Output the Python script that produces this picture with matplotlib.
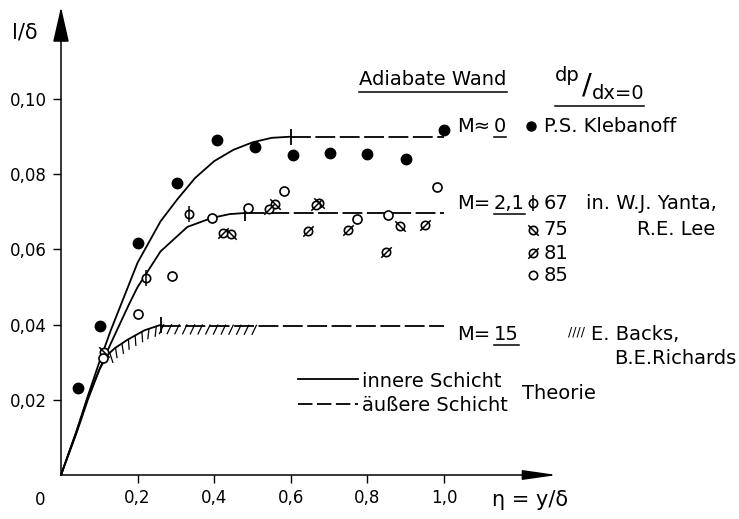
import matplotlib
matplotlib.use("Agg")
import matplotlib.pyplot as plt
from matplotlib.path import Path
from matplotlib.lines import Line2D
from matplotlib import patheffects as pe

# theory curves (inner layer, solid)
m0_x = [0, 0.04, 0.07, 0.10, 0.13, 0.165, 0.20, 0.26, 0.305, 0.35, 0.40, 0.45, 0.50, 0.55, 0.60]
m0_y = [0, 0.0115, 0.021, 0.030, 0.0385, 0.0475, 0.0565, 0.0675, 0.0735, 0.0790, 0.0835, 0.0865, 0.0885, 0.0897, 0.0900]
m21_x = [0, 0.04, 0.07, 0.10, 0.13, 0.178, 0.20, 0.26, 0.33, 0.394, 0.44, 0.48]
m21_y = [0, 0.011, 0.020, 0.028, 0.035, 0.0455, 0.0500, 0.0595, 0.0660, 0.0684, 0.0694, 0.0697]
m15_x = [0, 0.04, 0.07, 0.10, 0.12, 0.14, 0.174, 0.218, 0.262]
m15_y = [0, 0.0115, 0.0205, 0.028, 0.0318, 0.0337, 0.0360, 0.0385, 0.0400]
# outer layer (dashed) levels, running out to eta = 1.0
outer_end = 1.0
m0_outer = 0.0900
m21_outer = 0.0697
m15_outer = 0.0397
# Backs / Richards hatched range
hatch_x = [0.12, 0.14, 0.174, 0.218, 0.262, 0.52]
hatch_y = [0.0318, 0.0337, 0.0360, 0.0385, 0.0400, 0.0398]

# measurements
kleb_x = [0.044, 0.103, 0.20, 0.303, 0.406, 0.507, 0.605, 0.703, 0.798, 0.90, 1.0]
kleb_y = [0.0231, 0.0397, 0.0616, 0.0777, 0.0891, 0.0873, 0.0851, 0.0857, 0.0854, 0.0840, 0.0919]
y67_x = [0.222, 0.335]
y67_y = [0.0525, 0.0693]
y75_x = [0.113, 0.444, 0.56, 0.674, 0.885]
y75_y = [0.0328, 0.0640, 0.0722, 0.0723, 0.0662]
y81_x = [0.424, 0.543, 0.644, 0.666, 0.749, 0.849, 0.950]
y81_y = [0.0645, 0.0708, 0.0649, 0.0718, 0.0652, 0.0594, 0.0665]
y85_x = [0.109, 0.202, 0.289, 0.394, 0.489, 0.583, 0.773, 0.855, 0.982]
y85_y = [0.0310, 0.0428, 0.0530, 0.0684, 0.0711, 0.0755, 0.0682, 0.0691, 0.0767]

xticks = [0.2, 0.4, 0.6, 0.8, 1.0]
xtick_labels = ["0,2", "0,4", "0,6", "0,8", "1,0"]
yticks = [0.02, 0.04, 0.06, 0.08, 0.10]
ytick_labels = ["0,02", "0,04", "0,06", "0,08", "0,10"]

plt.rcParams["font.family"] = ["DejaVu Sans"]
FS = 14

fig = plt.figure(figsize=(7.39, 5.19), dpi=100)
ax = fig.add_axes([61 / 739, 44 / 519, 496 / 739, 468 / 519])
ax.set_xlim(0, 1.295)
ax.set_ylim(0, 0.1245)
for s in ax.spines.values():
    s.set_visible(False)

# axes with arrow heads
ax.annotate("", xy=(0, 1), xytext=(0, 0), xycoords="axes fraction",
            arrowprops=dict(arrowstyle="-|>,head_length=2.2,head_width=0.5",
                            mutation_scale=10, lw=1.1, color="k",
                            shrinkA=0, shrinkB=0))
ax.annotate("", xy=(1, 0), xytext=(0, 0), xycoords="axes fraction",
            arrowprops=dict(arrowstyle="-|>,head_length=2.1,head_width=0.3",
                            mutation_scale=10, lw=1.1, color="k",
                            shrinkA=0, shrinkB=0))

ax.set_xticks(xticks, xtick_labels)
ax.set_yticks(yticks, ytick_labels)
ax.tick_params(direction="out", length=6, width=1, labelsize=12, pad=4)

lw = 1.3
dash = (0, (11, 2.5))
# solid inner-layer curves
for cx, cy in [(m0_x, m0_y), (m21_x, m21_y), (m15_x, m15_y)]:
    ax.plot(cx, cy, color="k", lw=lw, clip_on=False)
    ax.plot(cx[-1], cy[-1], marker="|", ms=11, mew=1.3, color="k")
# dashed outer-layer lines
for cx, lev in [(m0_x, m0_outer), (m21_x, m21_outer), (m15_x, m15_outer)]:
    ax.plot([cx[-1], outer_end], [lev, lev], color="k", lw=lw, ls=dash)

# hatching for Backs / Richards
ax.plot(hatch_x, hatch_y, color="k", lw=0.9,
        path_effects=[pe.TickedStroke(angle=-115, spacing=5.5, length=1.3)])

slash = Path([(-1, -1), (1, 1)], [Path.MOVETO, Path.LINETO])
backslash = Path([(-1, 1), (1, -1)], [Path.MOVETO, Path.LINETO])
vbar = Path([(0, -1), (0, 1)], [Path.MOVETO, Path.LINETO])


def open_circles(x, y, extra=None, extra_ms=7.5, ms=6):
    ax.plot(x, y, ls="none", marker="o", ms=ms, mfc="white", mec="k",
            mew=1.2, clip_on=False, zorder=3)
    if extra is not None:
        ax.plot(x, y, ls="none", marker=extra, ms=extra_ms, color="k",
                mew=1.1, clip_on=False, zorder=4)


ax.plot(kleb_x, kleb_y, ls="none", marker="o", ms=7.5, color="k",
        clip_on=False, zorder=3)
open_circles(y67_x, y67_y, vbar, 11)
open_circles(y75_x, y75_y, backslash, 7.5)
open_circles(y81_x, y81_y, slash, 7.5)
open_circles(y85_x, y85_y, ms=6.5)

# legend-like annotations
kw = dict(fontsize=FS, va="center", ha="left", clip_on=False)
ax.text(-0.094, 0.1176, "l/δ", fontsize=15, ha="center", va="center")
ax.text(-0.055, -0.0066, "0", fontsize=12, ha="center", va="center")
ax.text(1.225, -0.0066, "η = y/δ", fontsize=15, ha="center", va="center")

t_ad = ax.text(0.971, 0.1051, "Adiabate Wand", fontsize=FS, ha="center", va="center")
t_dp = ax.text(1.290, 0.1062, "dp", **kw)
ax.text(1.372, 0.1037, "/", fontsize=21, ha="center", va="center")
t_dx = ax.text(1.386, 0.1016, "dx=0", **kw)

ax.text(1.035, 0.0928, "M≈", **kw)
t_m0 = ax.text(1.130, 0.0928, "0", **kw)
ax.plot(1.227, 0.0928, marker="o", ms=6.5, color="k", clip_on=False)
ax.text(1.262, 0.0928, "P.S. Klebanoff", **kw)

ax.text(1.035, 0.0723, "M=", **kw)
t_m21 = ax.text(1.130, 0.0723, "2,1", **kw)
rows = [(0.0723, "67", vbar, 11), (0.0652, "75", backslash, 7.5),
        (0.0590, "81", slash, 7.5), (0.0532, "85", None, 0)]
for ry, lab, mk, ems in rows:
    ax.plot(1.232, ry, marker="o", ms=6, mfc="white", mec="k", mew=1.2,
            clip_on=False)
    if mk is not None:
        ax.plot(1.232, ry, marker=mk, ms=ems, color="k", mew=1.1, clip_on=False)
    ax.text(1.260, ry, lab, **kw)
ax.text(1.372, 0.0723, "in. W.J. Yanta,", **kw)
ax.text(1.505, 0.0652, "R.E. Lee", **kw)

ax.text(1.035, 0.0375, "M=", **kw)
t_m15 = ax.text(1.130, 0.0375, "15", **kw)
ax.text(1.325, 0.0380, "////", fontsize=9, va="center", ha="left", clip_on=False)
ax.text(1.383, 0.0375, "E. Backs,", **kw)
ax.text(1.445, 0.0309, "B.E.Richards", **kw)

ax.plot([0.619, 0.775], [0.0255, 0.0255], color="k", lw=lw, clip_on=False)
ax.plot([0.619, 0.775], [0.0189, 0.0189], color="k", lw=lw, ls=(0, (8, 2.5)),
        clip_on=False)
ax.text(0.786, 0.0250, "innere Schicht", **kw)
ax.text(0.786, 0.0186, "äußere Schicht", **kw)
ax.text(1.204, 0.0217, "Theorie", **kw)

# underlines below some labels
fig.canvas.draw()
r = fig.canvas.get_renderer()
inv = fig.transFigure.inverted()


def underline(a, b=None, gap=3):
    b = b or a
    ba = a.get_window_extent(r)
    bb = b.get_window_extent(r)
    y = min(ba.y0, bb.y0) - gap
    p0 = inv.transform((ba.x0, y))
    p1 = inv.transform((bb.x1, y))
    fig.add_artist(Line2D([p0[0], p1[0]], [p0[1], p1[1]], color="k", lw=1.1,
                          transform=fig.transFigure))


underline(t_ad)
underline(t_dp, t_dx)
underline(t_m0, gap=1)
underline(t_m21, gap=1)
underline(t_m15, gap=1)

fig.savefig("out.png", dpi=100)
